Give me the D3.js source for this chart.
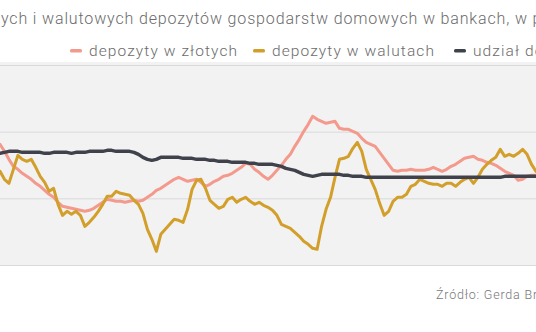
<!DOCTYPE html>
<html>
<head>
<meta charset="utf-8">
<script src="https://cdn.jsdelivr.net/npm/d3@7"></script>
<style>
  body { margin: 0; background: #fff; }
  svg { display: block; }
</style>
</head>
<body>
<div id="chart"></div>
<script>
var width = 536, height = 332;

// months, 0 = first visible month
var months = d3.range(0, 121);

// annual change, %
var plnDeposits = [16.2,14.1,11.7,9.6,8.7,7.5,6.6,5.7,4.5,3.6,2.4,1.2,0.3,-1.2,-2.4,-2.7,-3.0,-3.3,-3.6,-3.9,
  -3.6,-3.0,-2.1,-1.2,-0.3,-0.6,-0.9,-0.9,-1.2,-0.9,-0.6,-0.9,-0.6,0.3,1.2,2.4,3.0,3.9,4.8,5.7,
  6.3,5.7,5.1,5.4,5.7,4.8,3.6,4.2,5.1,5.7,6.6,6.9,7.5,8.4,9.3,10.5,10.2,8.7,7.8,6.6,
  5.7,6.9,8.4,9.9,11.7,13.2,15.6,17.7,20.1,22.2,24.6,23.7,23.1,22.5,22.8,23.1,21.0,20.7,20.7,20.1,
  19.5,18.0,16.8,16.2,15.6,13.8,12.0,10.2,8.4,8.1,8.4,8.4,8.7,8.4,8.4,8.4,8.7,9.3,8.7,8.1,
  8.7,9.6,10.2,11.1,12.0,12.3,12.6,11.7,11.4,10.8,10.5,9.9,9.0,8.1,7.5,6.9,5.4,5.7,6.6,6.9,6.9];

var fxDeposits = [8.1,5.7,4.5,8.7,12.9,11.7,11.1,11.7,9.3,6.6,4.8,2.1,3.0,-1.8,-5.1,-3.9,-4.8,-3.9,-5.1,-8.4,
  -7.2,-5.7,-3.9,-1.8,0.6,0.6,2.1,1.5,1.2,0.9,-0.6,-1.8,-4.5,-9.3,-12.3,-15.9,-10.8,-9.3,-7.8,-6.3,
  -6.6,-7.2,-3.3,2.7,5.4,5.7,3.0,-0.6,-1.8,-3.0,-2.4,-0.3,0.3,-1.2,-0.3,0.3,-0.9,-1.8,-1.2,-2.1,
  -2.7,-3.6,-5.1,-7.8,-8.4,-9.0,-10.2,-11.4,-12.9,-13.8,-15.0,-15.3,-8.4,-3.3,0.3,6.3,11.7,12.0,12.6,15.0,
  16.8,14.1,8.7,5.7,2.7,-1.5,-5.1,-3.9,-0.9,0.3,0.3,1.2,3.6,4.2,5.7,5.1,4.5,4.2,4.2,3.6,
  4.5,4.5,3.6,4.8,5.7,6.3,4.5,6.3,8.7,10.2,11.4,12.3,14.7,12.6,13.2,12.6,13.5,14.7,13.2,10.2,8.1];

// share of fx deposits, %
var fxShare = [13.5,13.8,14.1,14.1,14.1,13.8,13.8,13.8,13.8,13.8,13.5,13.5,13.8,13.8,13.8,13.8,13.5,13.8,13.8,13.8,
  14.1,14.1,14.1,14.1,14.4,14.4,14.1,14.1,14.1,14.1,13.8,13.2,12.3,11.7,11.4,11.7,12.3,12.3,12.3,12.3,
  12.3,12.0,12.0,12.0,11.7,11.7,11.7,11.4,11.4,11.1,11.1,11.1,10.8,10.8,10.8,10.8,10.5,10.5,10.2,10.2,
  10.2,10.2,9.9,9.6,9.0,8.7,8.4,7.8,7.2,6.9,6.6,6.9,7.2,7.2,7.2,7.2,7.2,6.9,6.9,6.6,
  6.6,6.6,6.3,6.3,6.3,6.3,6.3,6.3,6.3,6.3,6.3,6.3,6.3,6.3,6.3,6.3,6.3,6.3,6.3,6.3,
  6.3,6.3,6.3,6.3,6.3,6.3,6.3,6.3,6.3,6.3,6.3,6.3,6.3,6.6,6.6,6.6,6.6,6.6,6.6,6.6,6.6];

var yTicks = [40, 20, 0, -20];

var seriesNames = ["depozyty w złotych", "depozyty w walutach", "udział depozytów walutowych"];
var seriesColors = ["#f39a8d", "#d39f2b", "#3f424b"];

var svg = d3.select("#chart")
  .append("svg")
  .attr("width", width)
  .attr("height", height);

var x = d3.scaleLinear().domain([0, 120]).range([0, 536]);
var y = d3.scaleLinear().domain([-20, 40]).range([265, 65]);

// plot band
svg.append("rect")
  .attr("x", 0)
  .attr("y", 62)
  .attr("width", width)
  .attr("height", 203)
  .style("fill", "#f2f2f3");

svg.append("g")
  .call(d3.axisLeft(y).tickValues(yTicks).tickSize(-width).tickFormat(""))
  .call(function(g) { g.select(".domain").remove(); })
  .selectAll("line")
  .style("stroke", "#d9d9db")
  .style("stroke-width", 1);

var line = d3.line()
  .x(function(d, i) { return x(months[i]); })
  .y(function(d) { return y(d); });

var allSeries = [plnDeposits, fxDeposits, fxShare];
allSeries.forEach(function(s, i) {
  svg.append("path")
    .datum(s)
    .attr("d", line)
    .style("fill", "none")
    .style("stroke", seriesColors[i])
    .style("stroke-width", i == 2 ? 3.5 : 3)
    .style("stroke-linejoin", "round")
    .style("stroke-linecap", "round");
});

// title, cut by the frame like the original
var title = svg.append("text")
  .attr("y", 24)
  .attr("font-family", "Roboto")
  .attr("font-weight", 300)
  .attr("font-size", "16px")
  .attr("letter-spacing", "0.85px")
  .style("fill", "#6b6b6b");
title.append("tspan").attr("id", "pre").text("Dynamika złotow");
title.append("tspan").attr("id", "vis").text("ych i walutowych depozytów gospodarstw domowych w bankach, w proc. r/r");
var preW = title.select("#pre").node().getComputedTextLength();
title.attr("x", -preW + 1);

// legend
var legendX = [70, 253, 454];
var legend = svg.append("g").selectAll("g")
  .data(seriesNames)
  .enter().append("g");

legend.append("rect")
  .attr("x", function(d, i) { return legendX[i]; })
  .attr("y", 49)
  .attr("width", 12)
  .attr("height", 3.5)
  .attr("rx", 1.5)
  .style("fill", function(d, i) { return seriesColors[i]; });

legend.append("text")
  .attr("x", function(d, i) { return legendX[i] + 19; })
  .attr("y", 56)
  .attr("font-family", "Roboto")
  .attr("font-weight", 300)
  .attr("font-size", "15.5px")
  .attr("letter-spacing", "1.1px")
  .style("fill", "#6b6b6b")
  .text(function(d) { return d; });

svg.append("text")
  .attr("x", 436)
  .attr("y", 299)
  .attr("font-family", "Roboto")
  .attr("font-weight", 300)
  .attr("font-size", "12.5px")
  .attr("letter-spacing", "0.8px")
  .style("fill", "#777")
  .text("Źródło: Gerda Broker");
</script>
</body>
</html>
